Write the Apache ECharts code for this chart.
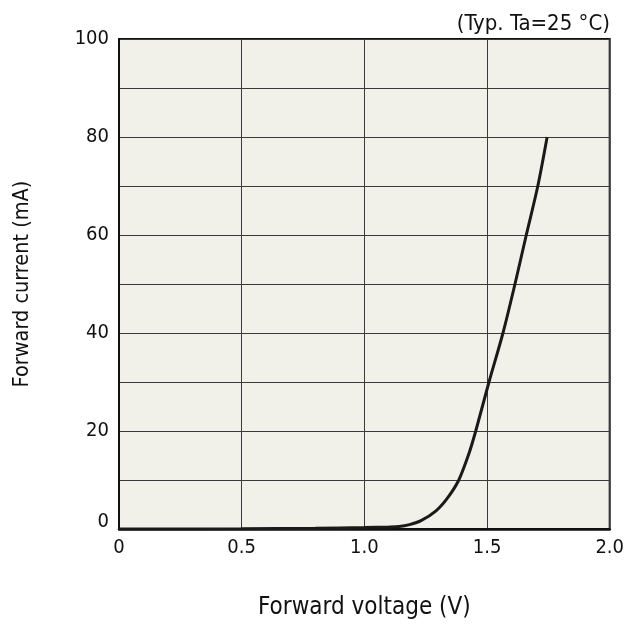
<!DOCTYPE html>
<html><head><meta charset="utf-8">
<script src="https://cdn.jsdelivr.net/npm/echarts@6/dist/echarts.min.js"></script>
<style>html,body{margin:0;padding:0;background:#fff}#c{width:627px;height:626px}</style>
</head><body><div id="c"></div>
<script>
var voltage = [0, 0.5, 0.8, 1.0, 1.1, 1.142, 1.184, 1.231, 1.292, 1.34, 1.385, 1.425, 1.454, 1.508, 1.565, 1.614, 1.66, 1.707, 1.745];
var current = [0, 0.05, 0.15, 0.3, 0.4, 0.5, 0.9, 1.7, 3.7, 6.4, 10, 15.2, 20, 30, 40, 50, 60, 70, 80];
var yLabels = [0, 20, 40, 60, 80, 100];
var xLabels = ['0', '0.5', '1.0', '1.5', '2.0'];

var pts = voltage.map(function(v, i){ return [v, current[i]]; });
var chart = echarts.init(document.getElementById('c'));
var font = '"DejaVu Sans Condensed", "DejaVu Sans", sans-serif';
chart.setOption({
  animation: false,
  title: { text: '(Typ. Ta=25 °C)', right: 12, top: 8,
    textStyle: { fontFamily: font, fontSize: 22, fontWeight: 'normal', color: '#111' } },
  grid: { left: 119, right: 17, top: 39, bottom: 97, show: true,
    backgroundColor: '#f2f1e9', borderColor: '#111', borderWidth: 2 },
  xAxis: { type: 'value', min: 0, max: 2, interval: 0.5,
    name: 'Forward voltage (V)', nameLocation: 'middle', nameGap: 67,
    nameTextStyle: { fontFamily: font, fontSize: 24, color: '#111' },
    axisLine: { show: true, lineStyle: { color: '#111', width: 2.5 } },
    axisTick: { show: false },
    axisLabel: { fontFamily: font, fontSize: 20, color: '#111', margin: 9,
      formatter: function(v){ var i = Math.round(v/0.5); return xLabels[i] || ''; } },
    splitLine: { show: true, lineStyle: { color: '#3a3a3a', width: 1 } } },
  yAxis: { type: 'value', min: 0, max: 100, interval: 10,
    name: 'Forward current (mA)', nameLocation: 'middle', nameGap: 86, nameRotate: 90,
    nameTextStyle: { fontFamily: font, fontSize: 21.5, color: '#111' },
    axisLine: { show: true, lineStyle: { color: '#111', width: 2 } },
    axisTick: { show: false },
    axisLabel: { fontFamily: font, fontSize: 20, color: '#111', margin: 10,
      rich: { z: { fontFamily: font, fontSize: 20, color: '#111', padding: [0, 0, 14, 0] } },
      formatter: function(v){
        if (v === 0) return '{z|0}';
        return yLabels.indexOf(v) >= 0 ? String(v) : ''; } },
    splitLine: { show: true, lineStyle: { color: '#3a3a3a', width: 1 } } },
  series: [{ type: 'line', data: pts, smooth: 0.3, showSymbol: false,
    lineStyle: { color: '#1a1a1a', width: 3 } }]
});
</script></body></html>
